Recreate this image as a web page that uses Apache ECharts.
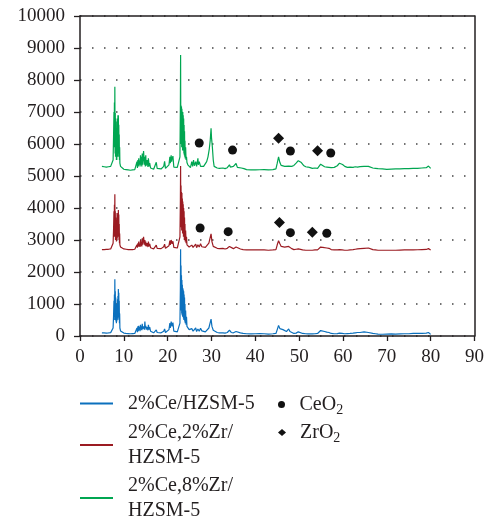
<!DOCTYPE html>
<html>
<head>
<meta charset="utf-8">
<script src="https://cdn.jsdelivr.net/npm/echarts@6/dist/echarts.min.js"></script>
<style>
  html, body { margin: 0; padding: 0; background: #fff; }
  #chart { width: 487px; height: 522px; }
</style>
</head>
<body>
<div id="chart"></div>
<script>
// 2θ (deg) / intensity pairs
const blueData = [
  [5.0, 100], [5.5, 95], [6.0, 90], [6.5, 95], [7.0, 105],
  [7.4, 130], [7.55, 250], [7.65, 600], [7.75, 1100], [7.8, 500], [7.85, 1300], [7.9, 700], [7.95, 1770], [8.0, 600],
  [8.05, 1400], [8.1, 500], [8.15, 1200], [8.2, 450], [8.25, 1000], [8.3, 400], [8.35, 900], [8.4, 450], [8.45, 1000],
  [8.5, 500], [8.55, 1150], [8.6, 550], [8.65, 1250], [8.7, 600], [8.75, 1470], [8.8, 700], [8.85, 1350], [8.9, 500],
  [8.95, 1100], [9.0, 400], [9.05, 700], [9.1, 250], [9.25, 160], [9.5, 110],
  [10, 90], [10.5, 80], [11, 75], [11.5, 70], [12, 75], [12.5, 80], [12.9, 100],
  [13.0, 250], [13.1, 120], [13.2, 300], [13.3, 150], [13.4, 320], [13.5, 180], [13.6, 280], [13.7, 150], [13.8, 350],
  [13.9, 200], [14.0, 300], [14.1, 180], [14.2, 380], [14.3, 220], [14.5, 300], [14.7, 200], [14.8, 450], [14.9, 250],
  [15.0, 320], [15.1, 200], [15.3, 280], [15.5, 180], [15.6, 350], [15.8, 200], [15.9, 280], [16.1, 150], [16.4, 120],
  [16.8, 100], [17.2, 130], [17.4, 190], [17.6, 110], [18.0, 90], [18.5, 100], [18.9, 130], [19.1, 150], [19.3, 220],
  [19.5, 110], [19.9, 100], [20.3, 200], [20.5, 400], [20.6, 250], [20.8, 450], [21.0, 300], [21.2, 420], [21.4, 150],
  [21.8, 120], [22.2, 130], [22.6, 160],
  [22.8, 400], [22.9, 1500], [22.95, 2710], [23.0, 900], [23.05, 2200], [23.1, 800], [23.15, 1900], [23.2, 700],
  [23.25, 1750], [23.3, 650], [23.35, 1600], [23.4, 600], [23.45, 1500], [23.5, 600], [23.55, 1450], [23.6, 550],
  [23.65, 1400], [23.7, 500], [23.75, 1300], [23.8, 500], [23.85, 1200], [23.9, 450], [23.95, 1000], [24.0, 400],
  [24.1, 800], [24.2, 350], [24.3, 600], [24.4, 300], [24.6, 250], [24.9, 200],
  [25.2, 150], [25.5, 230], [25.8, 150], [26.0, 200], [26.4, 250], [26.6, 140], [26.9, 220], [27.2, 150], [27.5, 240],
  [27.8, 160], [28.2, 180], [28.6, 130], [29.0, 180], [29.4, 250], [29.7, 300], [29.9, 530], [30.1, 300], [30.4, 180],
  [30.8, 120], [31.3, 110], [31.8, 100], [32.2, 130], [32.6, 100], [33.1, 90], [33.6, 110], [34.1, 180], [34.5, 110],
  [35.0, 100], [35.6, 140], [36.0, 110], [36.6, 100], [37.2, 80], [38, 70], [39, 65], [40, 70], [41, 75], [42, 70],
  [43, 60], [44, 70], [44.7, 80], [45.0, 200], [45.3, 330], [45.6, 230], [45.9, 180], [46.3, 200], [46.7, 160],
  [47.1, 140], [47.6, 220], [47.9, 140], [48.3, 110], [48.8, 80], [49.3, 90], [49.8, 130], [50.2, 90], [50.8, 80],
  [51.5, 70], [52, 65], [52.5, 70], [53, 65], [53.6, 70], [54.2, 80], [54.6, 110], [54.9, 170], [55.3, 150],
  [55.8, 140], [56.3, 120], [56.8, 110], [57.3, 80], [58, 70], [58.7, 75], [59.2, 90], [59.8, 80], [60.4, 70],
  [61, 75], [61.6, 80], [62.3, 90], [62.8, 100], [63.3, 110], [63.6, 150], [63.9, 110], [64.3, 140], [64.8, 130],
  [65.2, 100], [65.8, 110], [66.2, 90], [66.8, 80], [67.4, 70], [68, 60], [69, 55], [70, 60], [71, 65], [72, 60],
  [73, 65], [74, 70], [75, 70], [76, 80], [77, 80], [78, 85], [79, 90], [79.5, 110], [79.8, 80], [80, 50]
]

const redData = [
  [5.0, 2700], [5.5, 2700], [6.0, 2705], [6.5, 2710], [7.0, 2720],
  [7.4, 2760], [7.55, 2900], [7.65, 3300], [7.75, 3900], [7.8, 3100], [7.85, 4100], [7.9, 3300], [7.95, 4430],
  [8.0, 3100], [8.05, 3900], [8.1, 3000], [8.15, 3700], [8.2, 3000], [8.25, 3500], [8.3, 2950], [8.35, 3600],
  [8.4, 3000], [8.45, 3840], [8.5, 3050], [8.55, 3700], [8.6, 3100], [8.65, 3800], [8.7, 3100], [8.75, 3940],
  [8.8, 3150], [8.85, 3800], [8.9, 3000], [8.95, 3500], [9.0, 2900], [9.05, 3200], [9.1, 2850], [9.25, 2780],
  [9.5, 2740], [10, 2720], [10.5, 2710], [11, 2700], [11.5, 2700], [12, 2700], [12.5, 2710],
  [12.9, 2740], [13.0, 2850], [13.1, 2760], [13.2, 2900], [13.3, 2790], [13.4, 2950], [13.5, 2800], [13.6, 2880],
  [13.7, 2780], [13.8, 3000], [13.9, 2820], [14.0, 2950], [14.1, 2800], [14.2, 3050], [14.3, 2850], [14.5, 3100],
  [14.7, 2850], [14.8, 3000], [14.9, 2820], [15.0, 2950], [15.1, 2800], [15.3, 2900], [15.5, 2780], [15.6, 2950],
  [15.8, 2800], [15.9, 2880], [16.1, 2760], [16.4, 2730], [16.8, 2720], [17.2, 2760], [17.4, 2840], [17.6, 2740],
  [18.0, 2720], [18.5, 2730], [18.9, 2760], [19.1, 2790], [19.3, 2870], [19.5, 2740], [19.9, 2730], [20.3, 2820],
  [20.5, 2980], [20.6, 2850], [20.8, 3000], [21.0, 2880], [21.2, 2960], [21.4, 2770], [21.8, 2740], [22.2, 2750],
  [22.6, 2780],
  [22.8, 3100], [22.9, 4200], [22.95, 5310], [23.0, 3500], [23.05, 4700], [23.1, 3400], [23.15, 4500], [23.2, 3300],
  [23.25, 4470], [23.3, 3300], [23.35, 4300], [23.4, 3200], [23.45, 4200], [23.5, 3200], [23.55, 4120], [23.6, 3100],
  [23.65, 4000], [23.7, 3100], [23.75, 3900], [23.8, 3000], [23.85, 3700], [23.9, 3000], [23.95, 3500], [24.0, 2950],
  [24.1, 3300], [24.2, 2900], [24.3, 3100], [24.4, 2850], [24.6, 2810], [24.9, 2780],
  [25.2, 2760], [25.5, 2840],
  [25.8, 2770], [26.0, 2820], [26.4, 2870], [26.6, 2760], [26.9, 2850], [27.2, 2780], [27.5, 2880], [27.8, 2790],
  [28.2, 2810], [28.6, 2770], [29.0, 2830], [29.4, 2900], [29.7, 2950], [29.9, 3190], [30.1, 2950], [30.4, 2800],
  [30.8, 2750], [31.3, 2740], [31.8, 2730], [32.2, 2780], [32.6, 2740], [33.1, 2720], [33.6, 2740], [34.1, 2800],
  [34.5, 2740], [35.0, 2730], [35.6, 2780], [36.0, 2740], [36.6, 2720], [37.2, 2700], [38, 2690], [39, 2690],
  [40, 2690], [41, 2690], [42, 2690], [43, 2680], [44, 2690], [44.7, 2700], [45.0, 2850], [45.3, 2980], [45.6, 2880],
  [45.9, 2800], [46.3, 2820], [46.7, 2780], [47.1, 2760], [47.6, 2800], [47.9, 2760], [48.3, 2730], [48.8, 2700],
  [49.3, 2710], [49.8, 2720], [50.2, 2700], [50.8, 2690], [51.5, 2680], [52, 2680], [52.5, 2680], [53, 2680],
  [53.6, 2690], [54.2, 2690], [54.6, 2710], [54.9, 2780], [55.2, 2770], [55.8, 2760], [56.3, 2750], [56.8, 2740],
  [57.3, 2700], [58, 2690], [58.7, 2690], [59.2, 2700], [59.8, 2690], [60.4, 2680], [61, 2680], [61.6, 2690],
  [62.3, 2700], [62.8, 2710], [63.3, 2720], [63.6, 2780], [63.9, 2730], [64.3, 2760], [64.8, 2740], [65.2, 2710],
  [65.8, 2750], [66.2, 2710], [66.8, 2700], [67.4, 2690], [68, 2680], [69, 2680], [70, 2680], [71, 2680], [72, 2680],
  [73, 2685], [74, 2690], [75, 2690], [76, 2690], [77, 2695], [78, 2700], [79, 2705], [79.5, 2730], [79.8, 2700],
  [80, 2690]
]

const greenData = [
  [5.0, 5300], [5.5, 5290], [6.0, 5280], [6.5, 5290], [7.0, 5300],
  [7.4, 5350], [7.55, 5500], [7.65, 6200], [7.75, 7000], [7.8, 5900], [7.85, 7300], [7.9, 6000], [7.95, 7790],
  [8.0, 5700], [8.05, 6970], [8.1, 5600], [8.15, 6800], [8.2, 5600], [8.25, 6500], [8.3, 5500], [8.35, 6400],
  [8.4, 5500], [8.45, 6700], [8.5, 5600], [8.55, 6800], [8.6, 5600], [8.65, 6900], [8.7, 5700], [8.75, 6900],
  [8.8, 5700], [8.85, 6600], [8.9, 5600], [8.95, 6300], [9.0, 5500], [9.05, 5900], [9.1, 5400], [9.25, 5300],
  [9.5, 5240], [10, 5210], [10.5, 5200], [11, 5190], [11.5, 5180], [12, 5190], [12.5, 5200],
  [12.9, 5230], [13.0, 5450], [13.1, 5250], [13.2, 5500], [13.3, 5300], [13.4, 5550], [13.5, 5350], [13.6, 5480],
  [13.7, 5300], [13.8, 5650], [13.9, 5350], [14.0, 5600], [14.1, 5300], [14.2, 5700], [14.3, 5350], [14.5, 5780],
  [14.7, 5350], [14.8, 5600], [14.9, 5300], [15.0, 5650], [15.1, 5320], [15.3, 5500], [15.5, 5280], [15.6, 5550],
  [15.8, 5300], [15.9, 5400], [16.1, 5250], [16.4, 5220], [16.8, 5210], [17.2, 5260], [17.4, 5430], [17.6, 5240],
  [18.0, 5210], [18.5, 5220], [18.9, 5260], [19.1, 5300], [19.3, 5460], [19.5, 5240], [19.9, 5230], [20.3, 5350],
  [20.5, 5600], [20.6, 5400], [20.8, 5650], [20.9, 5450], [21.0, 5550], [21.2, 5620], [21.4, 5280], [21.8, 5250],
  [22.2, 5270], [22.6, 5300],
  [22.8, 5600], [22.9, 7200], [22.95, 8780], [23.0, 6200], [23.05, 7200], [23.1, 6000], [23.15, 7170], [23.2, 5900],
  [23.25, 7100], [23.3, 5900], [23.35, 7010], [23.4, 5800], [23.45, 7000], [23.5, 5800], [23.55, 6900], [23.6, 5800],
  [23.65, 6800], [23.7, 5700], [23.75, 6590], [23.8, 5650], [23.85, 6400], [23.9, 5600], [23.95, 6100], [24.0, 5550],
  [24.1, 5900], [24.2, 5500], [24.3, 5600], [24.4, 5420], [24.6, 5350], [24.9, 5300],
  [25.2, 5260], [25.5, 5450], [25.7, 5300], [25.9, 5500], [26.1, 5320], [26.4, 5450], [26.6, 5300], [26.9, 5550],
  [27.0, 5350], [27.2, 5450], [27.5, 5300], [27.8, 5350], [28.2, 5300], [28.6, 5320], [28.9, 5450], [29.2, 5600],
  [29.5, 5850], [29.7, 6100], [29.9, 6490], [30.0, 6200], [30.2, 5900], [30.4, 5500], [30.6, 5300], [30.8, 5260],
  [31.3, 5250], [31.8, 5240], [32.2, 5280], [32.6, 5250], [33.1, 5230], [33.6, 5260], [34.1, 5350], [34.3, 5280],
  [34.7, 5340], [35.0, 5300], [35.6, 5390], [35.9, 5270], [36.3, 5310], [36.8, 5250], [37.4, 5230], [38, 5200],
  [39, 5190], [40, 5190], [41, 5195], [42, 5200], [43, 5190], [44, 5200], [44.7, 5220], [45.0, 5400], [45.3, 5600],
  [45.6, 5420], [45.9, 5330], [46.3, 5350], [46.7, 5300], [47.1, 5290], [47.6, 5310], [47.9, 5290], [48.3, 5300],
  [48.8, 5330], [49.3, 5400], [49.8, 5480], [50.1, 5500], [50.5, 5420], [51.0, 5330], [51.5, 5290], [52, 5280],
  [52.5, 5260], [53, 5240], [53.6, 5250], [54.2, 5240], [54.6, 5280], [54.9, 5370], [55.2, 5340], [55.8, 5290],
  [56.3, 5280], [56.8, 5270], [57.3, 5260], [58, 5270], [58.7, 5320], [59.2, 5400], [59.5, 5420], [59.9, 5360],
  [60.4, 5300], [61, 5270], [61.6, 5280], [62.3, 5270], [62.8, 5290], [63.3, 5280], [63.6, 5330], [63.9, 5290],
  [64.3, 5310], [64.8, 5300], [65.2, 5270], [65.8, 5300], [66.2, 5260], [66.8, 5250], [67.4, 5240], [68, 5230],
  [69, 5220], [70, 5210], [71, 5215], [72, 5220], [73, 5225], [74, 5230], [75, 5230], [76, 5240], [77, 5240],
  [78, 5250], [79, 5260], [79.5, 5310], [79.8, 5270], [80, 5240]
]

// phase markers
const ceo2Points = [
  [27.2, 6030], [34.8, 5810], [48.0, 5780], [57.2, 5720],
  [27.4, 3375], [33.8, 3260], [48.0, 3230], [56.3, 3210]
]
const zro2Points = [
  [45.3, 6180], [54.2, 5790],
  [45.5, 3550], [53.0, 3240]
]

const seriesNames = ['2%Ce/HZSM-5', '2%Ce,2%Zr/\nHZSM-5', '2%Ce,8%Zr/\nHZSM-5']
const seriesColors = ['#0b70bd', '#9b1b22', '#00a651']
const phaseNames = ['CeO2', 'ZrO2']

const font = 'Liberation Serif'
const ink = '#231f20'
const markColor = '#111'

const chart = echarts.init(document.getElementById('chart'))

function lineSeries(i, data) {
  return {
    name: seriesNames[i],
    type: 'line',
    data: data,
    showSymbol: false,
    symbol: 'none',
    lineStyle: { color: seriesColors[i], width: 1.2 },
    itemStyle: { color: seriesColors[i] },
    z: 2
  }
}

// one legend block per entry so nothing wraps into a second column
function lineLegend(name, top) {
  return {
    data: [name],
    orient: 'vertical',
    left: 80,
    top: top,
    padding: 0,
    itemWidth: 33,
    itemHeight: 2,
    icon: 'rect',
    textStyle: { fontFamily: font, fontSize: 20, color: ink, lineHeight: 25, padding: [0, 0, 0, 10] }
  }
}

function phaseLegend(name, top) {
  return {
    data: [name],
    orient: 'vertical',
    left: 278,
    top: top,
    padding: 0,
    itemWidth: 8,
    itemHeight: 7,
    formatter: function (n) {
      return n.slice(0, -1) + '{s|2}'
    },
    textStyle: {
      fontFamily: font, fontSize: 20, color: ink, lineHeight: 25, padding: [0, 0, 0, 9],
      rich: { s: { fontFamily: font, fontSize: 14, color: ink, lineHeight: 25, verticalAlign: 'bottom', padding: [12, 0, 0, 0] } }
    }
  }
}

const plainAxis = {
  axisTick: { show: false },
  axisLabel: { show: false },
  splitLine: { show: false }
}

const option = {
  animation: false,
  grid: { left: 80, right: 11, top: 16, bottom: 186 },
  legend: [
    lineLegend(seriesNames[0], 391),
    lineLegend(seriesNames[1], 420),
    lineLegend(seriesNames[2], 473),
    phaseLegend(phaseNames[0], 391),
    phaseLegend(phaseNames[1], 419)
  ],
  xAxis: [
    {
      type: 'value',
      min: 0,
      max: 90,
      interval: 10,
      axisLine: { show: true, onZero: false, lineStyle: { color: ink, width: 1.5 } },
      axisTick: { length: 5, lineStyle: { color: ink, width: 1.3 } },
      axisLabel: { margin: 12, fontFamily: font, fontSize: 19, color: ink },
      splitLine: { show: false }
    },
    Object.assign({
      type: 'value',
      position: 'top',
      min: 0,
      max: 90,
      axisLine: { show: true, onZero: false, lineStyle: { color: ink, width: 1.5 } }
    }, plainAxis)
  ],
  yAxis: [
    {
      type: 'value',
      min: 0,
      max: 10000,
      interval: 1000,
      axisLine: { show: true, onZero: false, lineStyle: { color: ink, width: 1.5 } },
      axisTick: { show: true, length: 6, lineStyle: { color: ink, width: 1.3 } },
      axisLabel: { margin: 15, fontFamily: font, fontSize: 19, color: ink, formatter: function (v) { return String(v) } },
      splitLine: { show: true, lineStyle: { color: '#444', width: 1.5, type: [1.5, 10.5] } }
    },
    Object.assign({
      type: 'value',
      position: 'right',
      min: 0,
      max: 10000,
      axisLine: { show: true, onZero: false, lineStyle: { color: ink, width: 1.5 } }
    }, plainAxis)
  ],
  series: [
    lineSeries(0, blueData),
    lineSeries(1, redData),
    lineSeries(2, greenData),
    {
      name: phaseNames[0],
      type: 'scatter',
      data: ceo2Points,
      symbol: 'circle',
      symbolSize: 9,
      itemStyle: { color: markColor, opacity: 1 },
      z: 5
    },
    {
      name: phaseNames[1],
      type: 'scatter',
      data: zro2Points,
      symbol: 'diamond',
      symbolSize: 11,
      itemStyle: { color: markColor, opacity: 1 },
      z: 5
    }
  ]
}

chart.setOption(option)
</script>
</body>
</html>
